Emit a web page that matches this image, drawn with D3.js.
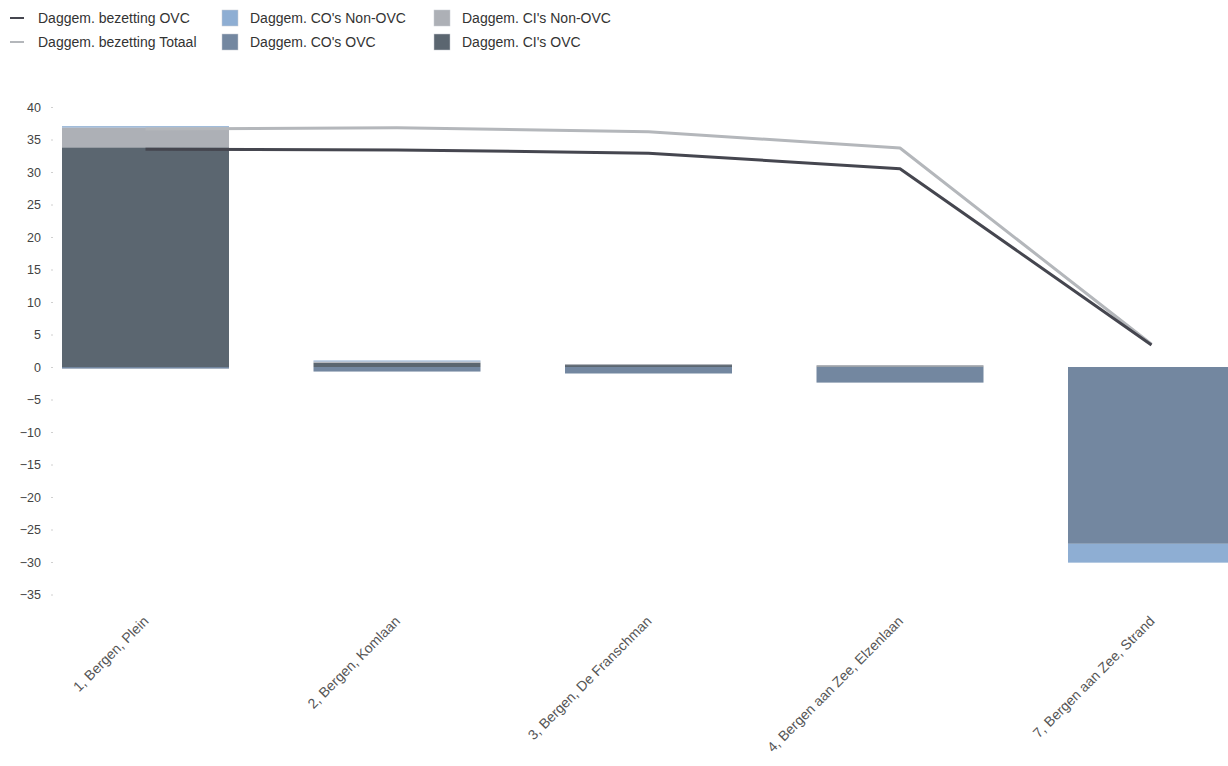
<!DOCTYPE html>
<html>
<head>
<meta charset="utf-8">
<script src="https://cdn.jsdelivr.net/npm/d3@7"></script>
<style>
  html, body { margin: 0; padding: 0; background: #fff; overflow: hidden; }
  svg { display: block; font-family: "Liberation Sans", Arial, sans-serif; }
</style>
</head>
<body>
<svg id="chart" width="1228" height="766"></svg>
<script>
const categories = ["1, Bergen, Plein", "2, Bergen, Komlaan", "3, Bergen, De Franschman", "4, Bergen aan Zee, Elzenlaan", "7, Bergen aan Zee, Strand"];
const ciOVC = [33.8, 0.65, 0.3, 0.1, 0];
const ciNonOVC = [3.05, 0.2, 0.15, 0.2, 0];
const coOVC = [-0.25, -0.7, -1.0, -2.4, -27.2];
const coNonOVC = [0.2, 0.15, 0, 0, -2.9];
const bezettingOVC = [33.5, 33.4, 32.9, 30.5, 3.4];
const bezettingTotaal = [36.6, 36.8, 36.2, 33.7, 3.5];
const yTicks = [40, 35, 30, 25, 20, 15, 10, 5, 0, -5, -10, -15, -20, -25, -30, -35];

const seriesDefs = [
  { key: "ciOVC", name: "Daggem. CI's OVC", values: ciOVC, color: "#5b6670" },
  { key: "ciNonOVC", name: "Daggem. CI's Non-OVC", values: ciNonOVC, color: "#adb0b6" },
  { key: "coOVC", name: "Daggem. CO's OVC", values: coOVC, color: "#7387a0" },
  { key: "coNonOVC", name: "Daggem. CO's Non-OVC", values: coNonOVC, color: "#8eaed3" }
];

const svg = d3.select("#chart");

const x = d3.scaleBand().domain(categories).range([19.75, 1277.25]).paddingInner(0.336).paddingOuter(0.168);
const y = d3.scaleLinear().domain([-35, 40]).range([594.5, 107]);

const table = categories.map((c, i) => {
  const row = { cat: c };
  seriesDefs.forEach(s => row[s.key] = s.values[i]);
  return row;
});
const stack = d3.stack().keys(seriesDefs.map(s => s.key)).offset(d3.stackOffsetDiverging);
const stacked = stack(table);

const gBars = svg.append("g");
stacked.forEach((layer, li) => {
  gBars.append("g").attr("fill", seriesDefs[li].color)
    .selectAll("rect").data(layer).join("rect")
    .attr("x", d => x(d.data.cat))
    .attr("width", x.bandwidth())
    .attr("y", d => y(Math.max(d[0], d[1])))
    .attr("height", d => Math.abs(y(d[0]) - y(d[1])));
});

// y axis
const yAxis = d3.axisLeft(y).tickValues(yTicks).tickSize(2).tickPadding(10).tickFormat(d3.format("d"));
const gy = svg.append("g").attr("transform", "translate(53,0)").call(yAxis);
gy.select(".domain").remove();
gy.selectAll(".tick line").attr("stroke", "#d0d0d0");
gy.selectAll(".tick text").attr("fill", "#444").style("font-size", "12.5px").style("font-family", "'Liberation Sans', Arial, sans-serif");

// x labels
const gx = svg.append("g");
gx.selectAll("text").data(categories).join("text")
  .attr("transform", d => `translate(${x(d) + x.bandwidth() / 2 + 4},${622}) rotate(-45)`)
  .attr("text-anchor", "end")
  .attr("fill", "#555")
  .style("font-size", "14px")
  .text(d => d);

// lines
const line = d3.line().x((d, i) => x(categories[i]) + x.bandwidth() / 2).y(d => y(d));
svg.append("path").datum(bezettingTotaal).attr("d", line)
  .attr("fill", "none").attr("stroke", "#b4b7bb").attr("stroke-width", 3).attr("stroke-linejoin", "round");
svg.append("path").datum(bezettingOVC).attr("d", line)
  .attr("fill", "none").attr("stroke", "#45464f").attr("stroke-width", 3).attr("stroke-linejoin", "round");

// legend
const legendItems = [
  { name: "Daggem. bezetting OVC", type: "line", color: "#45464f", col: 0, row: 0 },
  { name: "Daggem. bezetting Totaal", type: "line", color: "#b4b7bb", col: 0, row: 1 },
  { name: "Daggem. CO's Non-OVC", type: "rect", color: "#8eaed3", col: 1, row: 0 },
  { name: "Daggem. CO's OVC", type: "rect", color: "#7387a0", col: 1, row: 1 },
  { name: "Daggem. CI's Non-OVC", type: "rect", color: "#adb0b6", col: 2, row: 0 },
  { name: "Daggem. CI's OVC", type: "rect", color: "#5b6670", col: 2, row: 1 }
];
const colX = [10, 222, 434];
const rowY = [18, 42];
const gl = svg.append("g");
legendItems.forEach(it => {
  const gx0 = colX[it.col], gy0 = rowY[it.row];
  if (it.type === "line") {
    gl.append("line").attr("x1", gx0).attr("x2", gx0 + 14).attr("y1", gy0).attr("y2", gy0)
      .attr("stroke", it.color).attr("stroke-width", 2);
  } else {
    gl.append("rect").attr("x", gx0).attr("y", gy0 - 8).attr("width", 16).attr("height", 16)
      .attr("fill", it.color).attr("stroke", "#c8ccd2").attr("stroke-width", 0.5);
  }
  gl.append("text").attr("x", gx0 + 28).attr("y", gy0 + 5).attr("fill", "#333").style("font-size", "14px").text(it.name);
});
</script>
</body>
</html>
